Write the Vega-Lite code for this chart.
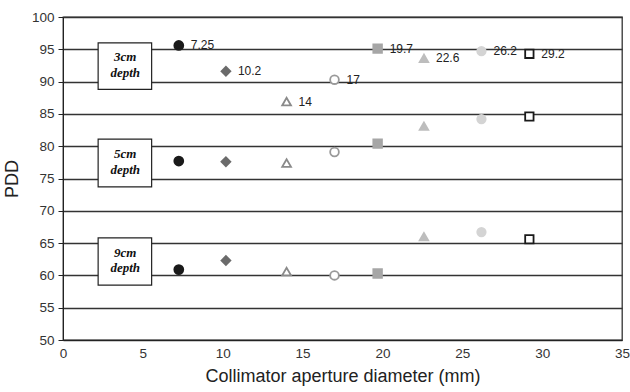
{
  "$schema": "https://vega.github.io/schema/vega-lite/v6.json",
  "width": 559,
  "height": 323,
  "autosize": "none",
  "padding": {"left": 63, "top": 17, "right": 8, "bottom": 52},
  "background": "white",
  "config": {
    "font": "Liberation Sans",
    "view": {"stroke": "#333", "strokeWidth": 1.3},
    "axis": {"labelFont": "Liberation Sans", "titleFont": "Liberation Sans", "labelColor": "#333", "titleColor": "#222", "domainColor": "#222", "tickColor": "#222", "labelFlush": false, "labelOverlap": false},
    "axisY": {"tickCount": 11, "grid": true, "gridColor": "#333", "gridWidth": 1.4, "gridOpacity": 1, "tickSize": 5, "labelPadding": 4, "titlePadding": 10, "labelFontSize": 13.5, "titleFontSize": 18, "titleFontWeight": "normal"},
    "axisX": {"tickCount": 8, "grid": false, "tickSize": 0, "labelPadding": 6, "titlePadding": 8, "labelFontSize": 13.5, "titleFontSize": 18, "titleFontWeight": "normal"}
  },
  "datasets": {
    "pts": [
      {"d": 7.25, "pdd": 95.6, "depth": "3cm", "ap": "a7.25", "lab": "7.25"},
      {"d": 10.2, "pdd": 91.6, "depth": "3cm", "ap": "a10.2", "lab": "10.2"},
      {"d": 14, "pdd": 86.9, "depth": "3cm", "ap": "a14", "lab": "14"},
      {"d": 17, "pdd": 90.3, "depth": "3cm", "ap": "a17", "lab": "17"},
      {"d": 19.7, "pdd": 95.1, "depth": "3cm", "ap": "a19.7", "lab": "19.7"},
      {"d": 22.6, "pdd": 93.6, "depth": "3cm", "ap": "a22.6", "lab": "22.6"},
      {"d": 26.2, "pdd": 94.7, "depth": "3cm", "ap": "a26.2", "lab": "26.2"},
      {"d": 29.2, "pdd": 94.3, "depth": "3cm", "ap": "a29.2", "lab": "29.2"},
      {"d": 7.25, "pdd": 77.7, "depth": "5cm", "ap": "a7.25", "lab": ""},
      {"d": 10.2, "pdd": 77.6, "depth": "5cm", "ap": "a10.2", "lab": ""},
      {"d": 14, "pdd": 77.4, "depth": "5cm", "ap": "a14", "lab": ""},
      {"d": 17, "pdd": 79.1, "depth": "5cm", "ap": "a17", "lab": ""},
      {"d": 19.7, "pdd": 80.4, "depth": "5cm", "ap": "a19.7", "lab": ""},
      {"d": 22.6, "pdd": 83.1, "depth": "5cm", "ap": "a22.6", "lab": ""},
      {"d": 26.2, "pdd": 84.2, "depth": "5cm", "ap": "a26.2", "lab": ""},
      {"d": 29.2, "pdd": 84.6, "depth": "5cm", "ap": "a29.2", "lab": ""},
      {"d": 7.25, "pdd": 60.9, "depth": "9cm", "ap": "a7.25", "lab": ""},
      {"d": 10.2, "pdd": 62.3, "depth": "9cm", "ap": "a10.2", "lab": ""},
      {"d": 14, "pdd": 60.6, "depth": "9cm", "ap": "a14", "lab": ""},
      {"d": 17, "pdd": 60.0, "depth": "9cm", "ap": "a17", "lab": ""},
      {"d": 19.7, "pdd": 60.3, "depth": "9cm", "ap": "a19.7", "lab": ""},
      {"d": 22.6, "pdd": 66.0, "depth": "9cm", "ap": "a22.6", "lab": ""},
      {"d": 26.2, "pdd": 66.7, "depth": "9cm", "ap": "a26.2", "lab": ""},
      {"d": 29.2, "pdd": 65.6, "depth": "9cm", "ap": "a29.2", "lab": ""}
    ],
    "boxes": [
      {"x1": 2.2, "x2": 5.55, "y1": 88.8, "y2": 96.0, "l1": "3cm", "l2": "depth", "t1": 93.8, "t2": 91.4},
      {"x1": 2.2, "x2": 5.55, "y1": 73.7, "y2": 81.1, "l1": "5cm", "l2": "depth", "t1": 78.8, "t2": 76.3},
      {"x1": 2.2, "x2": 5.55, "y1": 58.5, "y2": 65.8, "l1": "9cm", "l2": "depth", "t1": 63.5, "t2": 61.1}
    ]
  },
  "layer": [
    {
      "data": {"name": "boxes"},
      "mark": {"type": "rect", "fill": "white", "stroke": "#222", "strokeWidth": 1.2},
      "encoding": {
        "x": {"field": "x1", "type": "quantitative", "scale": {"domain": [0, 35], "nice": false},
          "axis": {"title": "Collimator aperture diameter (mm)"}},
        "x2": {"field": "x2"},
        "y": {"field": "y1", "type": "quantitative", "scale": {"domain": [50, 100], "nice": false},
          "axis": {"title": "PDD"}},
        "y2": {"field": "y2"}
      }
    },
    {
      "data": {"name": "boxes"},
      "mark": {"type": "text", "font": "Liberation Serif", "fontStyle": "italic", "fontWeight": "bold", "fontSize": 13, "color": "#111"},
      "encoding": {
        "x": {"datum": 3.9, "type": "quantitative"},
        "y": {"field": "t1", "type": "quantitative"},
        "text": {"field": "l1"}
      }
    },
    {
      "data": {"name": "boxes"},
      "mark": {"type": "text", "font": "Liberation Serif", "fontStyle": "italic", "fontWeight": "bold", "fontSize": 13, "color": "#111"},
      "encoding": {
        "x": {"datum": 3.9, "type": "quantitative"},
        "y": {"field": "t2", "type": "quantitative"},
        "text": {"field": "l2"}
      }
    },
    {
      "data": {"name": "pts"},
      "mark": {"type": "point", "filled": false, "opacity": 1, "strokeWidth": 1.8},
      "encoding": {
        "x": {"field": "d", "type": "quantitative"},
        "y": {"field": "pdd", "type": "quantitative"},
        "shape": {"field": "ap", "type": "nominal", "legend": null,
          "scale": {"domain": ["a7.25", "a10.2", "a14", "a17", "a19.7", "a22.6", "a26.2", "a29.2"],
            "range": ["circle", "diamond", "triangle-up", "circle", "square", "triangle-up", "circle", "square"]}},
        "fill": {"field": "ap", "type": "nominal", "legend": null,
          "scale": {"domain": ["a7.25", "a10.2", "a14", "a17", "a19.7", "a22.6", "a26.2", "a29.2"],
            "range": ["#1a1a1a", "#6b6b6b", "#ffffff", "#ffffff", "#a6a6a6", "#bdbdbd", "#d4d4d4", "#ffffff"]}},
        "stroke": {"field": "ap", "type": "nominal", "legend": null,
          "scale": {"domain": ["a7.25", "a10.2", "a14", "a17", "a19.7", "a22.6", "a26.2", "a29.2"],
            "range": ["#1a1a1a", "#6b6b6b", "#8a8a8a", "#999999", "#a6a6a6", "#bdbdbd", "#d4d4d4", "#1a1a1a"]}},
        "size": {"field": "ap", "type": "nominal", "legend": null,
          "scale": {"domain": ["a7.25", "a10.2", "a14", "a17", "a19.7", "a22.6", "a26.2", "a29.2"],
            "range": [80, 70, 70, 50, 80, 90, 80, 60]}}
      }
    },
    {
      "data": {"name": "pts"},
      "mark": {"type": "text", "align": "left", "baseline": "middle", "dx": 12, "fontSize": 12, "color": "#222", "font": "Liberation Sans"},
      "encoding": {
        "x": {"field": "d", "type": "quantitative"},
        "y": {"field": "pdd", "type": "quantitative"},
        "text": {"field": "lab"}
      }
    }
  ]
}
